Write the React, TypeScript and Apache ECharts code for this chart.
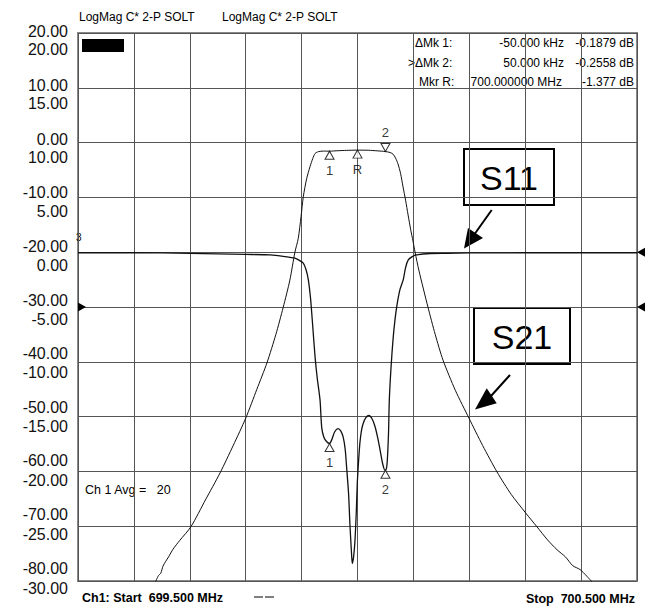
import React, { useEffect, useRef } from 'react';
import * as echarts from 'echarts';

const FONT = '"Liberation Sans", Arial, Helvetica, sans-serif';

// Frequency offset from 700.000 MHz, in kHz (span 699.500 .. 700.500 MHz)
const s21FreqKHz = [-362, -356, -352, -348, -343, -338, -330, -318, -298, -272, -246, -222, -200, -180, -162, -146, -133, -121, -112, -106, -101, -97, -91, -85, -80, -76, -70, -61, -50, -35, -20, 0, 20, 35, 50, 58, 63.5, 68, 72.5, 77, 81.5, 86, 90.5, 95, 99.3, 103, 110, 126, 139, 153, 175, 199.5, 224, 249.6, 275, 301, 321, 340, 357, 372, 385, 398, 410, 420];
const s21dB = [-80.3, -79.0, -78.6, -77.3, -76.4, -75.6, -74.2, -72.6, -70.1, -65.2, -60.3, -55.2, -50.3, -45.0, -40.2, -35.0, -30.1, -25.1, -20.0, -17.5, -13.5, -9.9, -6.6, -4.4, -2.9, -2.0, -1.65, -1.55, -1.565, -1.48, -1.42, -1.377, -1.40, -1.50, -1.633, -1.8, -2.1, -2.8, -3.9, -5.6, -8.1, -10.5, -13.2, -15.8, -18.0, -20.0, -23.4, -30.0, -35.0, -39.7, -45.2, -50.3, -55.3, -60.1, -64.2, -67.6, -70.1, -72.5, -74.3, -75.6, -77.2, -77.9, -79.1, -80.2];

const s11FreqKHz = [-500, -400, -300, -250, -200, -156, -130, -112, -104, -97, -92, -88, -84, -80, -76, -72, -67, -64, -60, -55, -50, -46, -41, -35, -30, -25.5, -22, -19.5, -16, -13.4, -11, -9.3, -7, -4.5, -2, -0.4, 2, 4.3, 7, 10.3, 15, 20.4, 26, 31.3, 36, 40.2, 45, 49.1, 51.5, 53.3, 55.5, 56.9, 60, 63.5, 67, 70.7, 76, 81.9, 86, 90.8, 98, 105.7, 130, 160, 200, 300, 500];
const s11dB = [-0.05, -0.05, -0.1, -0.15, -0.2, -0.25, -0.4, -0.55, -0.75, -1.0, -1.6, -2.5, -4.2, -6.8, -9.5, -11.5, -13.5, -16.0, -16.9, -17.3, -17.45, -17.1, -16.4, -16.1, -16.3, -16.9, -18.0, -19.6, -22.0, -25.0, -27.2, -28.4, -27.8, -26.3, -23.5, -21.1, -19.0, -17.4, -16.3, -15.6, -15.1, -14.9, -15.2, -15.9, -16.9, -18.0, -19.3, -19.9, -19.8, -19.0, -16.5, -13.5, -10.5, -8.0, -6.2, -4.8, -3.4, -2.5, -1.4, -0.7, -0.4, -0.25, -0.12, -0.1, -0.07, -0.05, -0.05];

const s21MarkerNames = ['1', 'R', '2'];
const s21MarkerFreq = [-50, 0, 50];
const s21MarkerdB = [-1.565, -1.377, -1.633];
const s11MarkerNames = ['1', '2'];
const s11MarkerFreq = [-50, 50];
const s11MarkerdB = [-17.45, -19.9];

const s21Scale = { min: -80, max: 20, interval: 10 };
const s11Scale = { min: -30, max: 20, interval: 5 };
const freqScale = { min: -500, max: 500, interval: 100 };

const titles = ['LogMag C* 2-P SOLT', 'LogMag C* 2-P SOLT'];
const readoutNames = ['ΔMk 1:', '>ΔMk 2:', 'Mkr R:'];
const readoutStim = ['-50.000 kHz', '50.000 kHz', '700.000000 MHz'];
const readoutResp = ['-0.1879 dB', '-0.2558 dB', '-1.377 dB'];
const startLabel = 'Ch1: Start  699.500 MHz';
const stopLabel = 'Stop  700.500 MHz';
const avgLabel = 'Ch 1 Avg =   20';

export default function App() {
  const ref = useRef<HTMLDivElement>(null);
  useEffect(() => {
    if (!ref.current) return;
    const chart = echarts.init(ref.current, undefined, { renderer: 'svg' });
    const gridLine = { show: true, lineStyle: { color: '#555', width: 1 } };
    const hiddenX = (gi: number) => ({ type: 'value', gridIndex: gi, ...freqScale, show: false });
    const labelAxis = (gi: number, sc: any) => ({
      type: 'value', gridIndex: gi, ...sc,
      axisLine: { show: false }, axisTick: { show: false }, splitLine: { show: false },
      axisLabel: { show: true, margin: 10, fontFamily: FONT, fontSize: 16, color: '#111', formatter: (v: number) => v.toFixed(2) },
    });
    const marker = (name: string, up: boolean) => ({
      symbol: 'triangle',
      symbolSize: [9, 8],
      symbolRotate: up ? 0 : 180,
      symbolOffset: [0, up ? 4 : -4],
      itemStyle: { color: '#fff', borderColor: '#000', borderWidth: 1 },
      label: { show: true, formatter: name, position: up ? 'bottom' : 'top', distance: up ? 4 : 4, fontFamily: FONT, fontSize: 13, color: '#000' },
    });
    const txt = (text: string, x: number, y: number, size: number, align = 'left', weight = 'normal') => ({
      type: 'text', x, y, silent: true,
      style: { text, font: `${weight} ${size}px ${FONT}`, fill: '#000', textAlign: align, textVerticalAlign: 'middle' },
    });
    const readoutY = [43, 63, 82];
    const option: any = {
      animation: false,
      backgroundColor: '#fff',
      grid: [
        { left: 78, top: 33, right: 11, bottom: 26, show: true, borderColor: '#888', borderWidth: 2 },
        { left: 78, top: 31.7, right: 11, bottom: 38.7 },
        { left: 78, top: 49.7, right: 11, bottom: 18.7 },
      ],
      xAxis: [
        { type: 'value', gridIndex: 0, ...freqScale, axisLine: { show: false }, axisTick: { show: false }, axisLabel: { show: false }, splitLine: gridLine },
        hiddenX(1),
        hiddenX(2),
      ],
      yAxis: [
        { type: 'value', gridIndex: 0, ...s21Scale, axisLine: { show: false }, axisTick: { show: false }, axisLabel: { show: false }, splitLine: gridLine },
        { type: 'value', gridIndex: 0, ...s11Scale, show: false, splitLine: { show: false } },
        labelAxis(1, s21Scale),
        labelAxis(2, s11Scale),
      ],
      series: [
        {
          name: 'S21', type: 'line', xAxisIndex: 0, yAxisIndex: 0, smooth: 0.25, showSymbol: false, symbol: 'none',
          lineStyle: { color: '#111', width: 1 },
          data: s21FreqKHz.map((f, i) => [f, s21dB[i]]),
          markPoint: {
            symbol: 'triangle', symbolSize: [9, 8], silent: true, label: { show: false },
            itemStyle: { color: '#000' },
            data: [
              { coord: [freqScale.min, -30], symbolRotate: -90, symbolOffset: [4, 0] },
              { coord: [freqScale.max, -30], symbolRotate: 90, symbolOffset: [4, 0] },
            ],
          },
        },
        {
          name: 'S11', type: 'line', xAxisIndex: 0, yAxisIndex: 1, smooth: 0.25, showSymbol: false, symbol: 'none',
          lineStyle: { color: '#111', width: 1.3 },
          data: s11FreqKHz.map((f, i) => [f, s11dB[i]]),
          markPoint: {
            symbol: 'triangle', symbolSize: [9, 8], silent: true, label: { show: false },
            itemStyle: { color: '#000' },
            data: [
              { coord: [freqScale.max, 0], symbolRotate: 90, symbolOffset: [4, 0] },
            ],
          },
        },
        {
          type: 'scatter', xAxisIndex: 0, yAxisIndex: 0, z: 5,
          data: s21MarkerFreq.map((f, i) => ({ value: [f, s21MarkerdB[i]], ...marker(s21MarkerNames[i], s21MarkerNames[i] !== '2') })),
        },
        {
          type: 'scatter', xAxisIndex: 0, yAxisIndex: 1, z: 5,
          data: s11MarkerFreq.map((f, i) => ({ value: [f, s11MarkerdB[i]], ...marker(s11MarkerNames[i], true) })),
        },
      ],
      graphic: [
        txt(titles[0], 79, 17, 12),
        txt(titles[1], 222, 17, 12),
        { type: 'rect', shape: { x: 82, y: 39, width: 42, height: 13 }, style: { fill: '#000' }, silent: true },
        ...readoutNames.map((t, i) => txt(t, i === 1 ? 408 : i === 2 ? 419 : 415, readoutY[i], 12)),
        ...readoutStim.map((t, i) => txt(t, i === 2 ? 562 : 564, readoutY[i], 12, 'right')),
        ...readoutResp.map((t, i) => txt(t, 634, readoutY[i], 12, 'right')),
        txt('3', 76, 237, 10),
        txt(avgLabel, 85, 490, 12.5),
        txt(startLabel, 82, 598, 12.5, 'left', 'bold'),
        txt(stopLabel, 635, 599, 12.5, 'right', 'bold'),
        { type: 'line', shape: { x1: 254, y1: 597, x2: 274, y2: 597 }, style: { stroke: '#000', lineWidth: 1.2, lineDash: [9, 2] }, silent: true },
        // S11 annotation
        { type: 'rect', shape: { x: 464, y: 149, width: 90, height: 56 }, style: { fill: '#fff', stroke: '#000', lineWidth: 2 }, silent: true },
        txt('S11', 509, 178, 34, 'center'),
        { type: 'line', shape: { x1: 491.7, y1: 210, x2: 475, y2: 233.5 }, style: { stroke: '#000', lineWidth: 2 }, silent: true },
        { type: 'polygon', shape: { points: [[464, 248.5], [483, 238], [468, 228]] }, style: { fill: '#000' }, silent: true },
        // S21 annotation
        { type: 'rect', shape: { x: 474, y: 308, width: 96, height: 56 }, style: { fill: '#fff', stroke: '#000', lineWidth: 2 }, silent: true },
        txt('S21', 522, 337, 34, 'center'),
        { type: 'line', shape: { x1: 510, y1: 375, x2: 491, y2: 396 }, style: { stroke: '#000', lineWidth: 2 }, silent: true },
        { type: 'polygon', shape: { points: [[475, 409.5], [496.7, 403.3], [486.7, 388.3]] }, style: { fill: '#000' }, silent: true },
      ],
    };
    chart.setOption(option);
    return () => chart.dispose();
  }, []);
  return <div ref={ref} style={{ position: 'fixed', left: 0, top: 0, width: 648, height: 607 }} />;
}
